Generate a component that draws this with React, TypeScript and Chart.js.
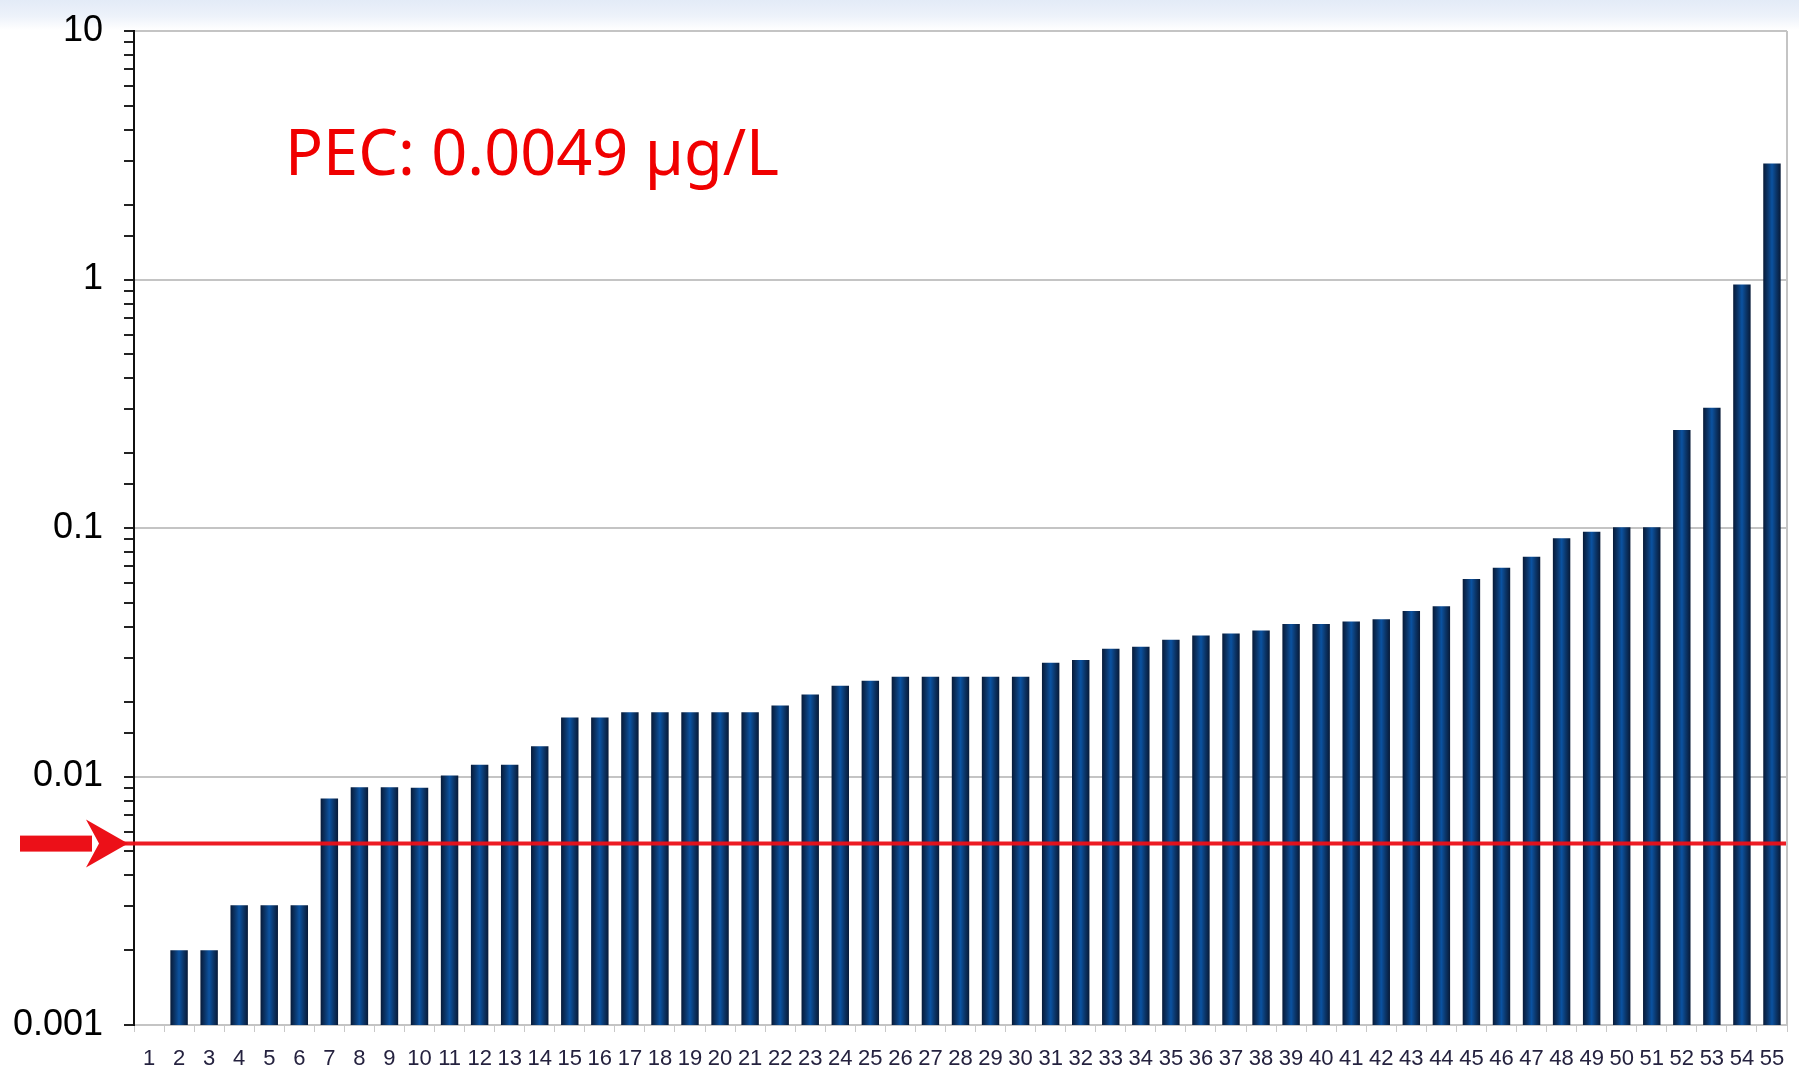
import React, { useEffect, useRef } from "react";
import { Chart, registerables } from "chart.js";

Chart.register(...registerables);

const categories: string[] = [
  "1", "2", "3", "4", "5", "6", "7", "8", "9", "10",
  "11", "12", "13", "14", "15", "16", "17", "18", "19", "20",
  "21", "22", "23", "24", "25", "26", "27", "28", "29", "30",
  "31", "32", "33", "34", "35", "36", "37", "38", "39", "40",
  "41", "42", "43", "44", "45", "46", "47", "48", "49", "50",
  "51", "52", "53", "54", "55",
];

const concentrations: (number | null)[] = [
  null, 0.002, 0.002, 0.00303, 0.00303, 0.00303,
  0.00816, 0.00906, 0.00906, 0.009, 0.0101, 0.01114, 0.01114, 0.01324,
  0.01726, 0.01726, 0.01815, 0.01815, 0.01815, 0.01815, 0.01815,
  0.0193, 0.0214, 0.0232, 0.0243, 0.0252, 0.0252, 0.0252, 0.0252, 0.0252,
  0.0287, 0.0294, 0.0327, 0.0333, 0.0355, 0.0369, 0.0376, 0.0387, 0.0411, 0.0411,
  0.042, 0.0429, 0.0463, 0.0484, 0.0624, 0.0692, 0.0766, 0.091, 0.0965, 0.1007, 0.1007,
  0.248, 0.305, 0.955, 2.93,
];

const yMajorTicks: number[] = [0.001, 0.01, 0.1, 1, 10];
const yTickLabels: string[] = ["0.001", "0.01", "0.1", "1", "10"];

const pecLineValue = 0.00537;
const pecText = "PEC: 0.0049 µg/L";

function majorIndex(v: number): number {
  for (let i = 0; i < yMajorTicks.length; i++) {
    if (Math.abs(Math.log10(v) - Math.log10(yMajorTicks[i])) < 1e-6) return i;
  }
  return -1;
}

const pecPlugin = {
  id: "pecLine",
  afterDatasetsDraw(chart: any) {
    const { ctx, chartArea, scales } = chart;
    const y = scales.y.getPixelForValue(pecLineValue);
    ctx.save();
    ctx.strokeStyle = "rgba(236,16,24,0.95)";
    ctx.lineWidth = 4;
    ctx.beginPath();
    ctx.moveTo(118, y);
    ctx.lineTo(chartArea.right, y);
    ctx.stroke();
    ctx.fillStyle = "#ec1018";
    ctx.fillRect(20, y - 8, 72, 16);
    ctx.beginPath();
    ctx.moveTo(86, y - 24);
    ctx.lineTo(128, y);
    ctx.lineTo(86, y + 24);
    ctx.lineTo(99, y);
    ctx.closePath();
    ctx.fill();
    ctx.strokeStyle = "#c4c4c4";
    ctx.lineWidth = 2;
    ctx.beginPath();
    ctx.moveTo(chartArea.right, chartArea.top);
    ctx.lineTo(chartArea.right, chartArea.bottom);
    ctx.stroke();
    ctx.restore();
  },
};

export default function App() {
  const canvasRef = useRef<HTMLCanvasElement | null>(null);

  useEffect(() => {
    const canvas = canvasRef.current;
    if (!canvas) return;
    const chart = new Chart(canvas, {
      type: "bar",
      data: {
        labels: categories,
        datasets: [
          {
            data: concentrations as any,
            barPercentage: 0.58,
            categoryPercentage: 1,
            borderWidth: 0,
            backgroundColor: (c: any) => {
              const ch = c.chart;
              if (c.type !== "data" || !ch.chartArea || !ch.scales.x) return "#0b3a78";
              const cx = ch.scales.x.getPixelForValue(c.dataIndex);
              const half = 9;
              const g = ch.ctx.createLinearGradient(cx - half, 0, cx + half, 0);
              g.addColorStop(0, "#071834");
              g.addColorStop(0.25, "#0b3466");
              g.addColorStop(0.5, "#0b52a0");
              g.addColorStop(0.75, "#0b3466");
              g.addColorStop(1, "#071834");
              return g;
            },
          },
        ],
      },
      options: {
        animation: false,
        responsive: false,
        maintainAspectRatio: false,
        layout: { padding: { top: 31, right: 12, left: 0, bottom: 0 } },
        plugins: {
          legend: { display: false },
          tooltip: { enabled: false },
          title: { display: false },
        },
        scales: {
          x: {
            grid: {
              display: true,
              drawOnChartArea: false,
              drawTicks: true,
              tickLength: 7,
              tickColor: "#c8c8c8",
              offset: true,
            },
            border: { display: true, color: "#c4c4c4", width: 2 },
            ticks: {
              autoSkip: false,
              maxRotation: 0,
              minRotation: 0,
              padding: 14,
              color: "#25223f",
              font: { family: "'Liberation Sans', Arial, sans-serif", size: 22 },
            },
            afterFit: (s: any) => {
              s.height = 47;
              s.paddingLeft = 0;
              s.paddingRight = 0;
            },
          },
          y: {
            type: "logarithmic",
            min: 0.001,
            max: 10,
            grid: {
              color: (c: any) =>
                c.tick && majorIndex(c.tick.value) >= 0 ? "#c4c4c4" : "rgba(0,0,0,0)",
              lineWidth: 2,
              drawTicks: true,
              tickLength: 10,
              tickColor: "#222222",
              tickWidth: 2,
            },
            border: { display: true, color: "#111111", width: 2 },
            ticks: {
              autoSkip: false,
              padding: 21,
              color: "#000000",
              font: { family: "'Liberation Sans', Arial, sans-serif", size: 36 },
              callback: (v: any) => {
                const i = majorIndex(Number(v));
                return i >= 0 ? yTickLabels[i] : "";
              },
            },
            afterFit: (s: any) => {
              s.width = 134;
              s.paddingTop = 0;
              s.paddingBottom = 0;
            },
          },
        },
      },
      plugins: [pecPlugin],
    });
    return () => chart.destroy();
  }, []);

  return (
    <div
      style={{
        position: "fixed",
        left: 0,
        top: 0,
        width: 1799,
        height: 1072,
        background:
          "linear-gradient(to bottom, #e3ebf7 0px, #edf2fa 16px, #ffffff 30px, #ffffff 100%)",
        overflow: "hidden",
      }}
    >
      <canvas
        ref={canvasRef}
        width={1799}
        height={1072}
        style={{ position: "absolute", left: 0, top: 0, width: 1799, height: 1072 }}
      />
      <div
        style={{
          position: "absolute",
          left: 285,
          top: 119,
          fontFamily: "'Noto Sans', 'Open Sans', sans-serif",
          fontSize: 63,
          lineHeight: "63px",
          color: "#f00000",
          whiteSpace: "nowrap",
        }}
      >
        {pecText}
      </div>
    </div>
  );
}
